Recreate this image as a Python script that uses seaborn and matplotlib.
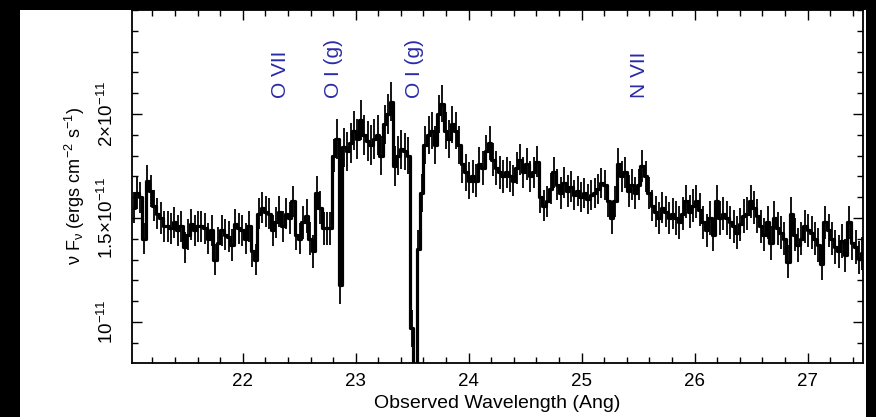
import numpy as np
import pandas as pd
import matplotlib
matplotlib.use("Agg")
import matplotlib.pyplot as plt
from matplotlib.patches import Rectangle
from matplotlib.ticker import MultipleLocator
import seaborn as sns

# ---- data (flux in units of 1e-11 erg cm^-2 s^-1) ----
wl_start = 21.035
bin_width = 0.03
flux = [
    1.55, 1.62, 1.60, 1.40, 1.68, 1.63, 1.56, 1.52, 1.50, 1.46,
    1.46, 1.45, 1.48, 1.44, 1.46, 1.36, 1.42, 1.47, 1.44, 1.46,
    1.46, 1.45, 1.40, 1.44, 1.30, 1.38, 1.44, 1.42, 1.41, 1.37,
    1.47, 1.45, 1.44, 1.40, 1.46, 1.34, 1.30, 1.52, 1.55, 1.53,
    1.52, 1.44, 1.48, 1.53, 1.46, 1.52, 1.50, 1.58, 1.42, 1.40,
    1.48, 1.51, 1.40, 1.34, 1.62, 1.55, 1.45, 1.45, 1.45, 1.80,
    1.88, 1.18, 1.84, 1.82, 1.86, 1.92, 1.88, 1.97, 1.90, 1.87,
    1.85, 1.88, 1.90, 1.80, 1.95, 2.00, 2.06, 1.75, 1.80, 1.83,
    1.82, 1.80, 0.97, 0.70, 1.35, 1.62, 1.85, 1.90, 1.92, 1.85,
    2.00, 2.05, 1.92, 1.88, 1.95, 1.92, 1.85, 1.76, 1.72, 1.68,
    1.70, 1.68, 1.76, 1.74, 1.82, 1.86, 1.78, 1.74, 1.72, 1.70,
    1.72, 1.70, 1.68, 1.74, 1.78, 1.72, 1.76, 1.70, 1.72, 1.77,
    1.60, 1.56, 1.58, 1.64, 1.72, 1.66, 1.62, 1.67, 1.63, 1.65,
    1.61, 1.63, 1.60, 1.62, 1.59, 1.61, 1.62, 1.64, 1.67, 1.66,
    1.58, 1.50, 1.58, 1.76, 1.70, 1.72, 1.63, 1.66, 1.62, 1.66,
    1.75, 1.70, 1.62, 1.56, 1.53, 1.50, 1.55, 1.53, 1.50, 1.52,
    1.50, 1.48, 1.52, 1.58, 1.53, 1.56, 1.58, 1.54, 1.48, 1.44,
    1.50, 1.42, 1.58, 1.50, 1.52, 1.50, 1.48, 1.46, 1.43, 1.47,
    1.51, 1.52, 1.58, 1.55, 1.51, 1.46, 1.42, 1.48, 1.38, 1.50,
    1.45, 1.43, 1.40, 1.29, 1.52, 1.42, 1.37, 1.40, 1.46, 1.44,
    1.43, 1.40, 1.37, 1.28, 1.48, 1.44, 1.40, 1.36, 1.34, 1.39,
    1.32, 1.48, 1.38, 1.36, 1.31, 1.33,
]
# error half-length per block of 10 bins
block_err = [0.075, 0.075, 0.075, 0.075, 0.075, 0.08, 0.095, 0.095, 0.09, 0.09,
             0.08, 0.075, 0.075, 0.072, 0.075, 0.075, 0.08, 0.08, 0.08, 0.08,
             0.08, 0.08]

lines_wl = [22.33, 22.80, 23.52, 25.51]
lines_lab = ["O VII", "O I (g)", "O I (g)", "N VII"]

ytick_vals = [1.0, 1.5, 2.0]
ytick_labs = [r"$10^{-11}$", r"$1.5{\times}10^{-11}$", r"$2{\times}10^{-11}$"]
xtick_vals = [22, 23, 24, 25, 26, 27]

# ---- build table ----
n = len(flux)
wl = wl_start + bin_width * np.arange(n)
err = np.array([block_err[i // 10] for i in range(n)])
df = pd.DataFrame({"wavelength": wl, "flux": flux, "err": err})

sns.set_style("ticks")
plt.rcParams["font.family"] = ["Liberation Sans", "DejaVu Sans"]
plt.rcParams["mathtext.fontset"] = "custom"
plt.rcParams["mathtext.rm"] = "Liberation Sans"
plt.rcParams["mathtext.it"] = "Liberation Sans"
plt.rcParams["mathtext.bf"] = "Liberation Sans:bold"
plt.rcParams["text.color"] = "black"
plt.rcParams["axes.labelcolor"] = "black"
plt.rcParams["xtick.color"] = "black"
plt.rcParams["ytick.color"] = "black"

fig = plt.figure(figsize=(8.76, 4.17), dpi=100, facecolor="black")
fig.patches.append(Rectangle((20 / 876, 0), 846 / 876, 407 / 417,
                             transform=fig.transFigure, facecolor="white",
                             edgecolor="none", zorder=-10))
ax = fig.add_axes([132 / 876, 54 / 417, 731 / 876, 353 / 417])
ax.set_facecolor("white")

ax.errorbar(df["wavelength"], df["flux"], yerr=df["err"], fmt="none",
            ecolor="black", elinewidth=1.3, capsize=0, zorder=2)
sns.lineplot(data=df, x="wavelength", y="flux", estimator=None, sort=False,
             drawstyle="steps-mid", color="black", linewidth=2.3, ax=ax, zorder=3)

ax.set_xlim(21.02, 27.49)
ax.set_ylim(0.803, 2.5)

ax.set_xticks(xtick_vals)
ax.set_xticklabels([str(v) for v in xtick_vals])
ax.xaxis.set_minor_locator(MultipleLocator(0.2))
ax.set_yticks(ytick_vals)
ax.set_yticklabels(ytick_labs, rotation=90, va="center")
ax.yaxis.set_minor_locator(MultipleLocator(0.1))

ax.tick_params(which="both", direction="in", top=True, right=True,
               color="black", width=1.0)
ax.tick_params(which="major", length=7, labelsize=13.5, labelcolor="black")
ax.tick_params(axis="x", which="major", pad=7)
ax.tick_params(axis="y", which="major", pad=11)
ax.tick_params(which="minor", length=4)

for s in ax.spines.values():
    s.set_color("black")
    s.set_linewidth(1.3)

ax.set_xlabel("Observed Wavelength (Ang)", fontsize=14, labelpad=4, color="black")
ax.set_ylabel(r"ν F$_{\mathrm{\nu}}$ (ergs cm$^{-2}$ s$^{-1}$)", fontsize=13,
              labelpad=7, color="black")

trans = matplotlib.transforms.blended_transform_factory(ax.transData, ax.transAxes)
for x, lab in zip(lines_wl, lines_lab):
    ax.text(x, 0.751, lab, rotation=90, ha="center", va="bottom",
            color="#2a2aa8", fontsize=15, transform=trans)

fig.savefig("out.png", dpi=100, facecolor=fig.get_facecolor())
